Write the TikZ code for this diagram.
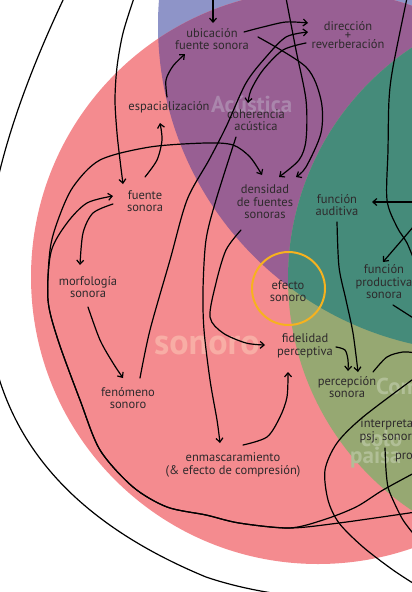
\documentclass[tikz,border=0pt]{standalone}
\usepackage{fontspec}
\setmainfont{PT Sans}
\usetikzlibrary{arrows.meta,calc}
\definecolor{pinkc}{HTML}{F48B8F}
\definecolor{lavc}{HTML}{8E94C8}
\definecolor{purc}{HTML}{985F93}
\definecolor{tealc}{HTML}{458B7A}
\definecolor{olivc}{HTML}{96A872}
\definecolor{ringc}{HTML}{F7B21E}
\definecolor{txtc}{HTML}{2E2A2C}
\definecolor{sonc}{HTML}{F8ADA5}
\definecolor{acuc}{HTML}{AA86AC}
\definecolor{comc}{HTML}{B1BF97}
\begin{document}
\begin{tikzpicture}[x=1pt,y=-1pt,
  lbl/.style={align=center,font=\fontsize{12.5}{12.5}\selectfont,text=txtc,inner sep=1pt},
  big/.style={font=\fontsize{#1}{#1}\selectfont\bfseries,inner sep=0pt,anchor=base west},
  ln/.style={line width=1.2pt,line cap=round},
  arr/.style={ln,-{Straight Barb[length=4pt,width=7pt]}}]
\useasboundingbox (0,0) rectangle (412,592);

% overlapping circles
\fill[lavc] (485,25) circle[radius=327pt];
\fill[pinkc] (318,277) circle[radius=287pt];
\begin{scope}
  \clip (485,25) circle[radius=327pt];
  \fill[purc] (318,277) circle[radius=287pt];
\end{scope}
\fill[olivc] (566,279) circle[radius=278pt];
\begin{scope}
  \clip (566,279) circle[radius=278pt];
  \fill[tealc] (485,25) circle[radius=327pt];
\end{scope}

% faint titles of the sets
\node[big=23,text=acuc] (tAcu) at (211,112) {Acústica};
\node[big=36,text=sonc] (tSon) at (154,354) {sonoro};
\node[big=23,text=comc] (tCom) at (376,394) {Com};
\node[big=23,text=comc] (tCol) at (361,446) {colo};
\node[big=23,text=comc] (tPai) at (350,463) {paisa};

% ring around the central concept
\draw[ringc,line width=2pt] (288.5,288.5) circle[radius=36.5pt];

% concepts
\node[lbl] (ubic) at (212,39) {ubicación\\fuente sonora};
\node[lbl] (dir) at (348,35) {dirección\\[-3.5pt]+\\[-3.5pt]reverberación};
\node[lbl] (esp) at (169,107) {espacialización};
\node[lbl] (coh) at (256,120) {coherencia\\acústica};
\node[lbl] (fs) at (145,201) {fuente\\sonora};
\node[lbl] (dens) at (265,202) {densidad\\de fuentes\\sonoras};
\node[lbl] (faud) at (337,205) {función\\auditiva};
\node[lbl] (fprod) at (384,282) {función\\productiva\\sonora};
\node[lbl] (ef) at (288,291) {efecto\\sonoro};
\node[lbl] (fid) at (305,346) {fidelidad\\perceptiva};
\node[lbl] (perc) at (347,387) {percepción\\sonora};
\node[lbl] (morf) at (88,287) {morfología\\sonora};
\node[lbl] (fen) at (128,398) {fenómeno\\sonoro};
\node[lbl] (enm) at (233,465) {enmascaramiento\\(\& efecto de compresión)};
\node[lbl] (interp) at (389,431) {interpreta-\\psj. sonoro};
\node[lbl,anchor=west] (pro) at (394,458) {pro};

% loose ends leaving the frame
\coordinate (topA) at (213,-2);
\coordinate (topB) at (134,-2);
\coordinate (topC) at (286,-2);
\coordinate (topD) at (407,-2);
\coordinate (rightA) at (414,202);
\coordinate (rightB) at (414,226);

% connectors
\draw[arr] (topA) -- ($(ubic)+(1,-16)$);
\draw[arr] plot[smooth] coordinates {($(esp)+(-2,-10)$) (166,80) (173,66) ($(ubic)+(-27,15)$)};
\draw[arr] plot[smooth] coordinates {($(fs)+(0,-24)$) (157,160) (162,140) ($(esp)+(-9,16)$)};
\draw[arr] plot[smooth] coordinates {(topB) (123,33) (117,67) (115,100) (117,133) (120,160) ($(fs)+(-22,-17)$)};
\draw[arr] plot[smooth] coordinates {($(ubic)+(32,-7)$) (263,27) (286,22) ($(dir)+(-40,-12)$)};
\draw[arr] plot[smooth] coordinates {($(fen)+(12,-20)$) (150,330) (170,260) (187,200) (209,160) (226,127) (246,83) (266,57) (286,37) ($(dir)+(-40,-3)$)};
\draw[arr] plot[smooth] coordinates {($(dir)+(-42,8)$) (283,50) (263,70) (251,90) ($(coh)+(-8,-17)$)};
\draw[arr] plot[smooth] coordinates {(topC) (296,50) (306,100) (306,140) (299,160) ($(dens)+(14,-25)$)};
\draw[arr] plot[smooth] coordinates {($(ubic)+(46,-2)$) (306,67) (321,100) (321,133) (306,167) ($(dens)+(31,-25)$)};
\draw[arr] plot[smooth] coordinates {($(fs)+(-32,3)$) (93,213) (83,233) ($(morf)+(-8,-22)$)};
\draw[arr] plot[smooth] coordinates {($(morf)+(0,20)$) (100,340) (113,363) ($(fen)+(-5,-20)$)};
\draw[arr] plot[smooth] coordinates {($(coh)+(-20,17)$) (216,200) (206,240) (203,290) (204,330) (210,380) (217,420) ($(enm)+(-13,-22)$)};
\draw[arr] plot[smooth] coordinates {($(dens)+(-24,28)$) (226,250) (216,283) (210,317) (223,333) (246,343) ($(fid)+(-40,-1)$)};
\draw[arr] plot[smooth] coordinates {($(enm)+(10,-20)$) (267,437) (280,417) (287,397) ($(fid)+(-17,26)$)};
\draw[arr] plot[smooth] coordinates {($(fid)+(31,1)$) (345,350) (348,360) ($(perc)+(1,-16)$)};
\draw[arr] plot[smooth] coordinates {($(faud)+(0,17)$) (339,267) (346,300) (353,333) ($(perc)+(11,-15)$)};
\draw[arr] (rightA) -- ($(faud)+(35,-3)$);
\draw[arr] (rightB) -- ($(fprod)+(-1,-20)$);
\draw[ln] plot[smooth] coordinates {(topD) (393,67) (389,100) (388,150) (387,200) (397,227) (407,243) (416,265)};
\draw[ln] ($(fprod)+(9,23)$) -- (418,321);
\draw[ln] plot[smooth] coordinates {($(perc)+(26,-15)$) (387,357) (403,352) (416,353)};
\draw[ln] plot[smooth] coordinates {(416,377) (363,417) (337,443) (325,470) (328,500) (339,523) (363,547) (393,570) (416,585)};
\draw[ln] plot[smooth] coordinates {($(interp)+(-4,17)$) (386,470) (388,487) (393,500) (403,520) (416,537)};
% long loop round the left side
\draw[arr] plot[smooth] coordinates {($(pro)+(12,14)$) (383,490) (356,507) (323,520) (289,528) (239,523) (206,515) (167,507) (133,487) (100,450) (80,400) (58,340) (48,300) (51,252) (67,223) (87,203) ($(fs)+(-32,-5)$)};
\draw[arr] plot[smooth] coordinates {(416,512) (339,523) (289,528) (239,523) (206,515) (167,507) (133,487) (100,450) (80,400) (58,340) (48,300) (50,250) (58,220) (73,187) (100,160) (150,147) (206,143) (233,145) (250,157) ($(dens)+(-3,-27)$)};
% outermost arc
\coordinate (arcTop) at (64,-2);
\coordinate (arcLeft) at (-14,260);
\coordinate (arcLow) at (206,577);
\draw[ln] (arcTop) .. controls (30,70) and (-10,170) .. (arcLeft)
  .. controls (-20,380) and (20,500) .. (arcLow)
  .. controls (250,592) and (300,598) .. (340,600);
\end{tikzpicture}
\end{document}
